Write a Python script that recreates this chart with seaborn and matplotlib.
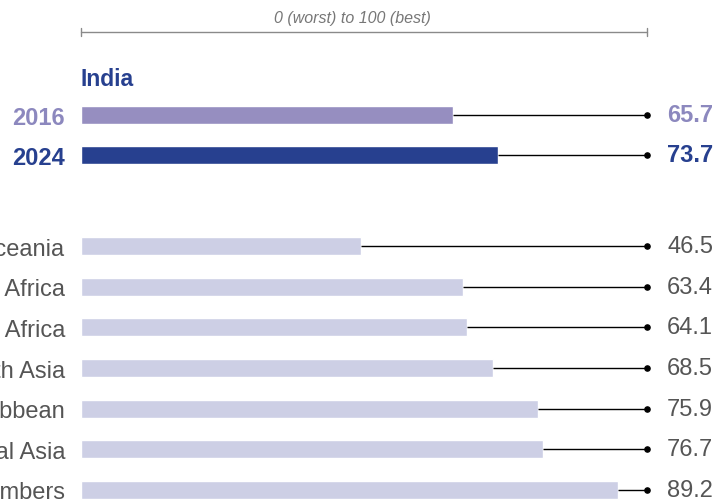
import matplotlib
matplotlib.use('Agg')
import matplotlib.pyplot as plt
import seaborn as sns

# data
years = ['2016', '2024']
india_scores = [65.7, 73.7]
year_colors = ['#968ec0', '#27408f']
year_text_colors = ['#8c88be', '#27408f']

regions = ['Oceania', 'Sub-Saharan Africa', 'Middle East and North Africa',
           'East and South Asia', 'Latin America and the Caribbean',
           'Eastern Europe and Central Asia', 'OECD members']
region_scores = [46.5, 63.4, 64.1, 68.5, 75.9, 76.7, 89.2]
region_color = '#cdcfe5'

sns.set_style('white')
plt.rcParams['font.family'] = ['Liberation Sans', 'DejaVu Sans']

W, H = 714, 502
fig = plt.figure(figsize=(W / 100, H / 100), dpi=100)

def px_axes(left, top, width, height):
    # axes rect from pixel coords (top-left origin)
    return fig.add_axes([left / W, (H - top - height) / H, width / W, height / H])

def style(ax, labels, colors, weight, xmax):
    ax.set_xlim(0, xmax)
    ax.set_ylim(len(labels) - 0.5, -0.5)
    sns.despine(ax=ax, left=True, bottom=True)
    ax.set_xticks([])
    ax.set_xlabel('')
    ax.set_ylabel('')
    ax.tick_params(axis='y', length=0, pad=11.5)
    for t, c in zip(ax.get_yticklabels(), colors):
        t.set_color(c)
        t.set_fontsize(17)
        t.set_fontweight(weight)

# India panel
ax1 = px_axes(81, 96, 566, 80)
sns.barplot(x=india_scores, y=years, hue=years, palette=year_colors,
            legend=False, width=0.44, saturation=1, ax=ax1)
style(ax1, years, year_text_colors, 'bold', 100)
ax1.hlines(range(len(years)), india_scores, 100, color='black', lw=1.0, clip_on=False)
ax1.scatter([100] * len(years), range(len(years)), color='black', s=14, zorder=5, clip_on=False)
for i, (v, c) in enumerate(zip(india_scores, year_text_colors)):
    ax1.annotate(f'{v:.1f}', xy=(100, i), xytext=(14.5, 0), textcoords='offset points',
                 ha='left', va='center', fontsize=17, fontweight='bold', color=c)

# scale bracket above
tr = ax1.get_xaxis_transform()
yb = (176 - 33) / 80
ax1.plot([0, 100], [yb, yb], color='#8a8a8a', lw=1.0, transform=tr, clip_on=False)
for xe in (0, 100):
    ax1.plot([xe, xe], [yb - 0.055, yb + 0.055], color='#8a8a8a', lw=1.0, transform=tr, clip_on=False)
fig.text(352 / W, 1 - 18 / H, '0 (worst) to 100 (best)', ha='center', va='center',
         fontsize=11.5, style='italic', color='#777777')
fig.text(81 / W, 1 - 80 / H, 'India', ha='left', va='center',
         fontsize=16.5, fontweight='bold', color='#27408f')

# regions panel
ax2 = px_axes(81, 226.7, 566, 284.6)
sns.barplot(x=region_scores, y=regions, color=region_color, width=0.44,
            saturation=1, ax=ax2)
style(ax2, regions, ['#555555'] * len(regions), 'normal', 94)
ax2.hlines(range(len(regions)), region_scores, 94, color='black', lw=1.0, clip_on=False)
ax2.scatter([94] * len(regions), range(len(regions)), color='black', s=14, zorder=5, clip_on=False)
for i, v in enumerate(region_scores):
    ax2.annotate(f'{v:.1f}', xy=(94, i), xytext=(14.5, 0), textcoords='offset points',
                 ha='left', va='center', fontsize=17, color='#555555')

fig.savefig('out.png', dpi=100)
